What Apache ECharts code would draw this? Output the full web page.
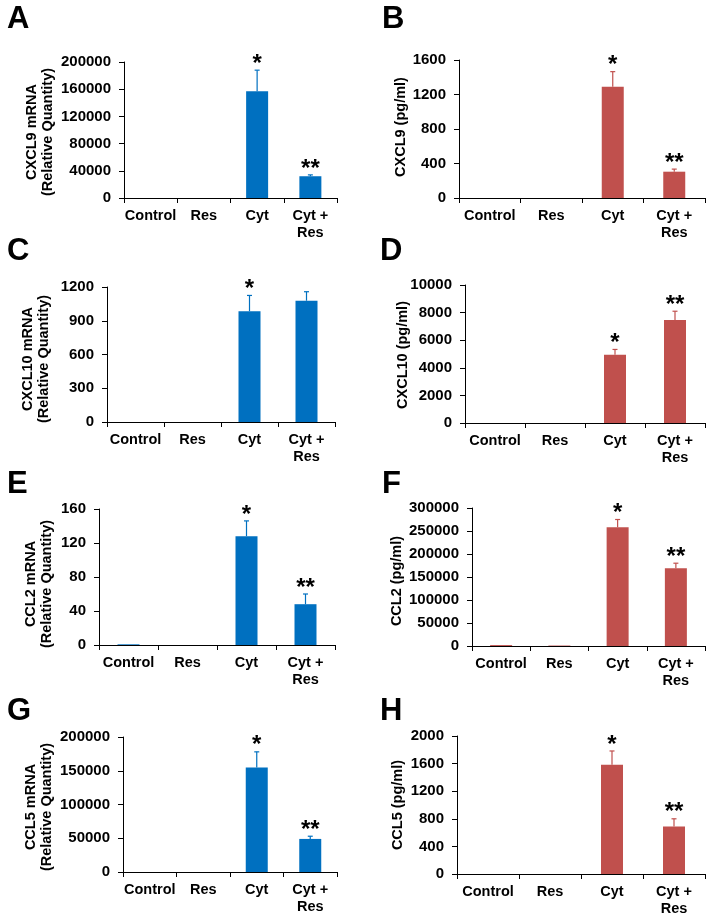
<!DOCTYPE html>
<html>
<head>
<meta charset="utf-8">
<script src="https://cdn.jsdelivr.net/npm/echarts@6/dist/echarts.min.js"></script>
<style>
  html, body { margin: 0; padding: 0; background: #fff; }
  #chart { width: 714px; height: 919px; }
</style>
</head>
<body>
<div id="chart"></div>
<script>
// groups on the x axis
const categories = ['Control', 'Res', 'Cyt', 'Cyt +\nRes'];

// bar heights (mean) and top of error bar
const cxcl9Mrna = [0, 0, 157000, 32000];
const cxcl9MrnaErr = [0, 0, 188000, 34000];
const cxcl9Prot = [0, 0, 1290, 305];
const cxcl9ProtErr = [0, 0, 1465, 335];
const cxcl10Mrna = [0, 0, 985, 1078];
const cxcl10MrnaErr = [0, 0, 1125, 1158];
const cxcl10Prot = [0, 0, 4940, 7460];
const cxcl10ProtErr = [0, 0, 5330, 8100];
const ccl2Mrna = [0.8, 0, 128, 48];
const ccl2MrnaErr = [0.8, 0, 146, 60];
const ccl2Prot = [2000, 1000, 258000, 169000];
const ccl2ProtErr = [2500, 1000, 275000, 180000];
const ccl5Mrna = [0, 0, 155000, 49000];
const ccl5MrnaErr = [0, 0, 178000, 53000];
const ccl5Prot = [0, 0, 1585, 690];
const ccl5ProtErr = [0, 0, 1783, 800];

// significance marks
const starsA = ['', '', '*', '**'];
const starsC = ['', '', '*', ''];
const starsD = ['', '', '*', '**'];

const FONT = "'Liberation Sans', Arial, sans-serif";
const BLUE = '#0070C0';
const RED = '#C0504D';

const panels = [
  { letter: 'A', title: 'CXCL9 mRNA\n(Relative Quantity)', vals: cxcl9Mrna, err: cxcl9MrnaErr, stars: starsA, max: 200000, step: 40000, color: BLUE,
    grid: { left: 124, top: 62, width: 213, height: 136 }, lx: 7, ly: 8, tx: 40, ty: 132 },
  { letter: 'B', title: 'CXCL9 (pg/ml)', vals: cxcl9Prot, err: cxcl9ProtErr, stars: starsA, max: 1600, step: 400, color: RED,
    grid: { left: 459, top: 60, width: 246, height: 138 }, lx: 382, ly: 8, tx: 401, ty: 127 },
  { letter: 'C', title: 'CXCL10 mRNA\n(Relative Quantity)', vals: cxcl10Mrna, err: cxcl10MrnaErr, stars: starsC, max: 1200, step: 300, color: BLUE,
    grid: { left: 107, top: 287, width: 228, height: 135 }, lx: 7, ly: 240, tx: 36, ty: 359 },
  { letter: 'D', title: 'CXCL10 (pg/ml)', vals: cxcl10Prot, err: cxcl10ProtErr, stars: starsD, max: 10000, step: 2000, color: RED,
    grid: { left: 465, top: 285, width: 240, height: 138 }, lx: 380, ly: 240, tx: 403, ty: 355 },
  { letter: 'E', title: 'CCL2 mRNA\n(Relative Quantity)', vals: ccl2Mrna, err: ccl2MrnaErr, stars: starsA, max: 160, step: 40, color: BLUE,
    grid: { left: 99, top: 509, width: 236, height: 136 }, lx: 7, ly: 473, tx: 39, ty: 584 },
  { letter: 'F', title: 'CCL2 (pg/ml)', vals: ccl2Prot, err: ccl2ProtErr, stars: starsA, max: 300000, step: 50000, color: RED,
    grid: { left: 472, top: 508, width: 233, height: 138 }, lx: 382, ly: 473, tx: 397, ty: 581 },
  { letter: 'G', title: 'CCL5 mRNA\n(Relative Quantity)', vals: ccl5Mrna, err: ccl5MrnaErr, stars: starsA, max: 200000, step: 50000, color: BLUE,
    grid: { left: 123, top: 737, width: 214, height: 135 }, lx: 7, ly: 700, tx: 39, ty: 807 },
  { letter: 'H', title: 'CCL5 (pg/ml)', vals: ccl5Prot, err: ccl5ProtErr, stars: starsA, max: 2000, step: 400, color: RED,
    grid: { left: 457, top: 736, width: 248, height: 138 }, lx: 380, ly: 700, tx: 398, ty: 805 }
];

const chart = echarts.init(document.getElementById('chart'), null, { renderer: 'canvas' });

const grids = [], xAxes = [], yAxes = [], series = [], graphics = [];

panels.forEach((p, i) => {
  grids.push(p.grid);
  xAxes.push({
    type: 'category',
    gridIndex: i,
    data: categories,
    axisLine: { lineStyle: { color: '#000', width: 1 } },
    axisTick: { show: true, length: 5, lineStyle: { color: '#000' } },
    axisLabel: { color: '#000', fontFamily: FONT, fontWeight: 'bold', fontSize: 14.5, margin: 9, lineHeight: 17, interval: 0 }
  });
  yAxes.push({
    type: 'value',
    gridIndex: i,
    min: 0,
    max: p.max,
    interval: p.step,
    axisLine: { show: true, lineStyle: { color: '#000', width: 1 } },
    axisTick: { show: true, length: 5, lineStyle: { color: '#000' } },
    splitLine: { show: false },
    axisLabel: { color: '#000', fontFamily: FONT, fontWeight: 'bold', fontSize: 15, margin: 13, formatter: v => String(v) }
  });
  series.push({
    type: 'bar',
    xAxisIndex: i,
    yAxisIndex: i,
    data: p.vals,
    barWidth: 22,
    itemStyle: { color: p.color },
    silent: true,
    animation: false
  });
  series.push({
    type: 'custom',
    xAxisIndex: i,
    yAxisIndex: i,
    data: p.vals.map((v, k) => [k, v, p.err[k]]),
    encode: { x: 0, y: [1, 2] },
    z: 5,
    silent: true,
    animation: false,
    renderItem: (params, api) => {
      const k = api.value(0);
      const base = api.coord([k, api.value(1)]);
      const top = api.coord([k, api.value(2)]);
      const kids = [];
      if (base[1] - top[1] > 0.5) {
        kids.push({ type: 'line', shape: { x1: base[0], y1: base[1], x2: top[0], y2: top[1] },
          style: { stroke: p.color, lineWidth: 1.2 } });
        kids.push({ type: 'line', shape: { x1: top[0] - 2.5, y1: top[1], x2: top[0] + 2.5, y2: top[1] },
          style: { stroke: p.color, lineWidth: 1.2 } });
      }
      const s = p.stars[params.dataIndex];
      if (s) {
        kids.push({ type: 'text', x: top[0], y: top[1] + 6,
          style: { text: s, fill: '#000', font: 'bold 24px ' + FONT, textAlign: 'center', textVerticalAlign: 'bottom' } });
      }
      return { type: 'group', children: kids };
    }
  });
  graphics.push({
    type: 'text', left: p.lx, top: p.ly - 4,
    style: { text: p.letter, fill: '#000', font: 'bold 31px ' + FONT }
  });
  graphics.push({
    type: 'text', x: p.tx, y: p.ty, rotation: Math.PI / 2,
    style: { text: p.title, fill: '#000', font: 'bold 14.5px ' + FONT, lineHeight: 16, textAlign: 'center', textVerticalAlign: 'middle' }
  });
});

chart.setOption({
  backgroundColor: '#fff',
  animation: false,
  grid: grids,
  xAxis: xAxes,
  yAxis: yAxes,
  series: series,
  graphic: graphics
});
</script>
</body>
</html>
